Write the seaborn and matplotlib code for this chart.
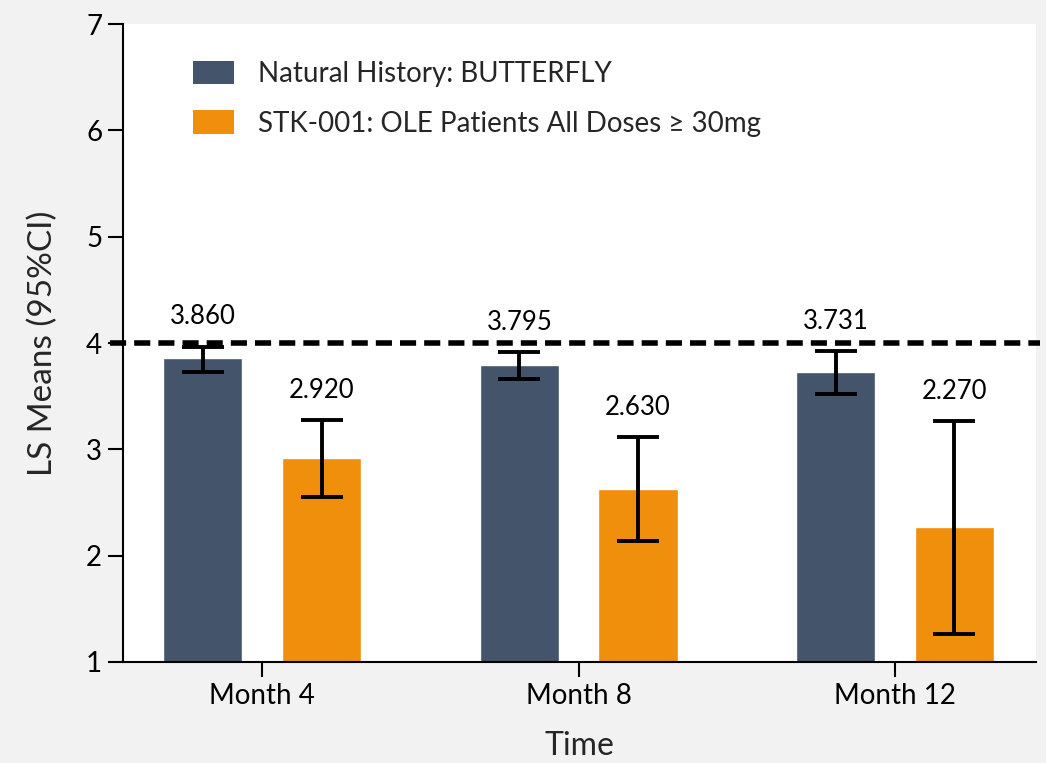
import pandas as pd
import matplotlib.pyplot as plt
import seaborn as sns
from matplotlib.patches import Patch

# Values
months = ['Month 4', 'Month 8', 'Month 12']
groups = ['Natural History: BUTTERFLY', 'STK-001: OLE Patients All Doses \u2265 30mg']
nh_means = [3.860, 3.795, 3.731]
nh_lower = [3.73, 3.66, 3.52]
nh_upper = [3.965, 3.913, 3.925]
stk_means = [2.920, 2.630, 2.270]
stk_lower = [2.555, 2.138, 1.263]
stk_upper = [3.276, 3.116, 3.267]
yticks = [1, 2, 3, 4, 5, 6, 7]
ref_line = 4

colors = ['#44546a', '#ef8f0b']

sns.set_style('white')
plt.rcParams['font.family'] = ['Lato', 'DejaVu Sans']

df = pd.DataFrame({
    'month': months * 2,
    'mean': nh_means + stk_means,
    'group': [groups[0]] * 3 + [groups[1]] * 3,
})

fig = plt.figure(figsize=(10.46, 7.63), dpi=100)
fig.patch.set_facecolor('#f2f2f2')
ax = fig.add_axes([0.1176, 0.1324, 0.8728, 0.8361])
ax.set_facecolor('white')

sns.barplot(data=df, x='month', y='mean', hue='group', order=months, hue_order=groups,
            palette=colors, width=0.75, gap=0.333, errorbar=None, saturation=1, ax=ax)
if ax.get_legend() is not None:
    ax.get_legend().remove()

# error bars and value labels
for cont, means, lo, hi in [(ax.containers[0], nh_means, nh_lower, nh_upper),
                            (ax.containers[1], stk_means, stk_lower, stk_upper)]:
    for bar, m, l, h in zip(cont, means, lo, hi):
        xc = bar.get_x() + bar.get_width() / 2
        ax.errorbar(xc, m, yerr=[[m - l], [h - m]], fmt='none', ecolor='black',
                    elinewidth=2.8, capsize=15, capthick=2.8, zorder=4)
        ax.annotate(f'{m:.3f}', (xc, h), xytext=(0, 21.5), textcoords='offset points',
                    ha='center', va='center', fontsize=18.5, color='black')

# dashed reference line, starting a little left of the y axis
ax.axhline(ref_line, xmin=-0.014, xmax=1.004, color='black', lw=4,
           linestyle=(0, (2.9, 1.45)), zorder=5, clip_on=False)

ax.set_ylim(1, 7)
ax.set_xlim(-0.44, 2.445)
ax.set_yticks(yticks)
ax.set_yticklabels([str(t) for t in yticks])
ax.tick_params(axis='both', length=11, width=1.5, labelsize=20, colors='black', pad=4,
               left=True, bottom=True)
ax.set_xlabel('Time', fontsize=23, labelpad=16)
ax.set_ylabel('LS Means (95%CI)', fontsize=24, labelpad=20)

for s in ['top', 'right']:
    ax.spines[s].set_visible(False)
for s in ['left', 'bottom']:
    ax.spines[s].set_color('black')
    ax.spines[s].set_linewidth(1.5)

handles = [Patch(facecolor=c, edgecolor='none') for c in colors]
ax.legend(handles, groups, loc='upper left', bbox_to_anchor=(0.077, 0.942), frameon=False,
          fontsize=20, handlelength=1.47, handleheight=0.9, handletextpad=0.86,
          labelspacing=0.84, borderpad=0, borderaxespad=0)

fig.savefig('out.png', dpi=100, facecolor=fig.get_facecolor())
